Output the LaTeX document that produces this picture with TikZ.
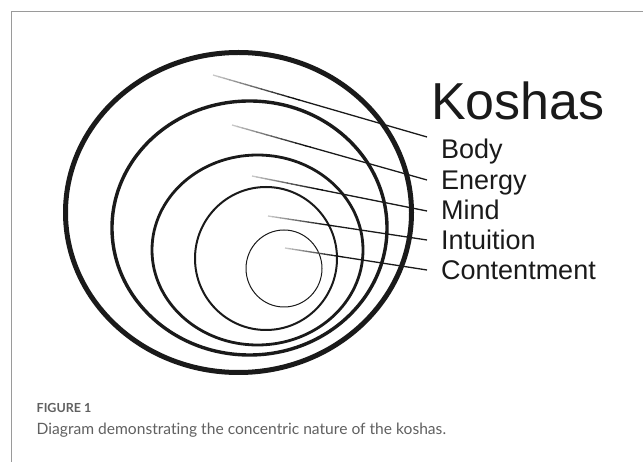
\documentclass[tikz,border=0pt]{standalone}
\usepackage{fontspec}
\setmainfont{Liberation Sans}
\newfontfamily\capfont[Ligatures=NoCommon]{Lato}
\usetikzlibrary{calc}
\definecolor{framegray}{HTML}{9A9A9A}
\definecolor{capgray}{HTML}{606060}
\definecolor{ink}{HTML}{1A1A1A}
\newcommand\kline[2]{%
  \foreach \k in {0,...,15}{%
    \pgfmathsetmacro\ta{\k*0.025}%
    \pgfmathsetmacro\tb{(\k+1)*0.025+0.004}%
    \pgfmathtruncatemacro\sh{22+\k*5}%
    \draw[kl, draw=black!\sh] ($(#1)!\ta!(#2)$) -- ($(#1)!\tb!(#2)$);
  }%
  \draw[kl, draw=ink] ($(#1)!0.4!(#2)$) -- (#2);
}
\begin{document}
\begin{tikzpicture}[x=1pt,y=-1pt,
  ring/.style={draw=ink},
  kl/.style={line width=1.3pt},
  lab/.style={anchor=base west, inner sep=0pt, font=\fontsize{27}{30}\selectfont, text=ink},
  title/.style={anchor=base west, inner sep=0pt, font=\fontsize{52}{60}\selectfont, text=ink}]
\useasboundingbox (0,0) rectangle (643,462);
% frame
\draw[framegray, line width=1pt] (11,462) -- (11,12) -- (643,12);
% rings
\draw[ring, line width=5pt] (238.5,212.5) ellipse [x radius=173pt, y radius=160pt];
\draw[ring, line width=3.4pt] (249.5,228) ellipse [x radius=137.5pt, y radius=127pt];
\draw[ring, line width=2.8pt] (257.5,250) ellipse [x radius=105.5pt, y radius=95pt];
\draw[ring, line width=2pt] (266,258.5) ellipse [x radius=71pt, y radius=71.5pt];
\draw[ring, line width=1pt] (284,268.5) ellipse [x radius=38pt, y radius=38.5pt];
% labels
\node[title] (koshas) at (431,120) {Koshas};
\node[lab] (body) at (441,158.3) {Body};
\node[lab] (energy) at (441,189.3) {Energy};
\node[lab] (mind) at (441,219.3) {Mind};
\node[lab] (intuition) at (441,250) {Intuition};
\node[lab] (content) at (441,280) {Contentment};
% connector coordinates
\coordinate (s1) at (213,75);   \coordinate (e1) at (427,137);
\coordinate (s2) at (232,125);  \coordinate (e2) at (427,180);
\coordinate (s3) at (252,176);  \coordinate (e3) at (427,211);
\coordinate (s4) at (268,216);  \coordinate (e4) at (427,240);
\coordinate (s5) at (285,248);  \coordinate (e5) at (427,270);
\kline{s1}{e1}
\kline{s2}{e2}
\kline{s3}{e3}
\kline{s4}{e4}
\kline{s5}{e5}
% caption
\node[anchor=base west, inner sep=0pt, text=capgray, font=\capfont\bfseries\fontsize{12.5}{14}\selectfont] (fig) at (36.5,412.7) {FIGURE 1};
\node[anchor=base west, inner sep=0pt, text=capgray, font=\capfont\fontsize{15.6}{19}\selectfont] (cap) at (36.5,435) {Diagram demonstrating the concentric nature of the koshas.};
\end{tikzpicture}
\end{document}
